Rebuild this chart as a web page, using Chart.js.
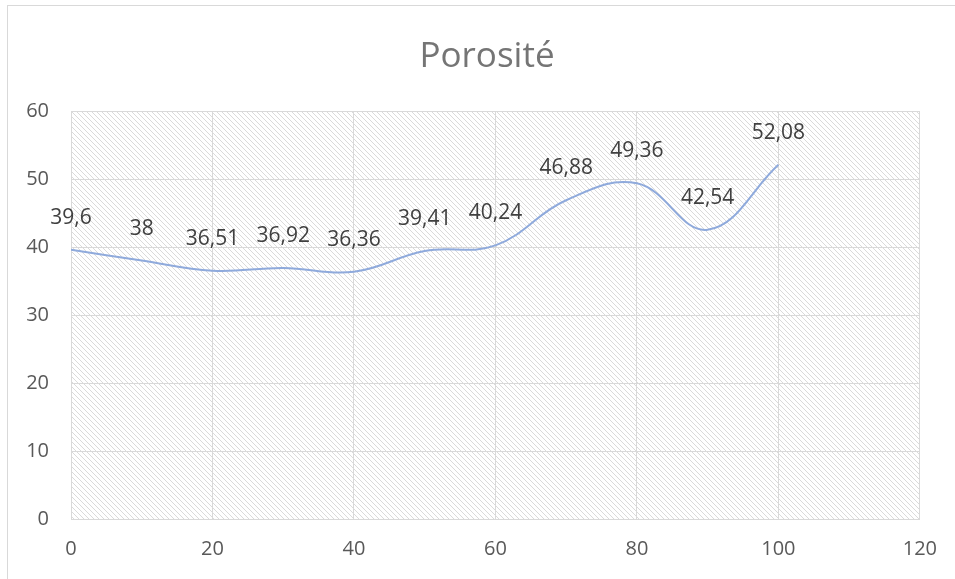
<!DOCTYPE html>
<html>
<head>
<meta charset="utf-8">
<script src="https://cdn.jsdelivr.net/npm/chart.js@4"></script>
<style>
  html, body { margin: 0; padding: 0; background: #fff; }
  #wrap { width: 955px; height: 579px; position: relative; }
  #title {
    position: absolute; left: 387px; width: 200px; top: 30px;
    text-align: center; line-height: 44px;
    font: 35px "Open Sans", "Liberation Sans", sans-serif; color: #757575;
  }
</style>
</head>
<body>
<div id="wrap"><canvas id="chart"></canvas><div id="title">Porosité</div></div>
<script>
const xValues = [0, 10, 20, 30, 40, 50, 60, 70, 80, 90, 100];
const porosite = [39.6, 38, 36.51, 36.92, 36.36, 39.41, 40.24, 46.88, 49.36, 42.54, 52.08];
const pointLabels = ['39,6', '38', '36,51', '36,92', '36,36', '39,41', '40,24', '46,88', '49,36', '42,54', '52,08'];

const gridColor = '#d9d9d9';
const textFont = '"Open Sans", "Liberation Sans", sans-serif';

// hatch pattern for the plot area (downward diagonal)
function makeHatch() {
    const tile = document.createElement('canvas');
    tile.width = 5;
    tile.height = 5;
    const t = tile.getContext('2d');
    t.fillStyle = '#dadada';
    for (let i = 0; i < 5; i++) {
        t.fillRect(i, i, 1, 1);
    }
    return t.createPattern(tile, 'repeat');
}

const backgroundPlugin = {
    id: 'background',
    beforeDraw(chart) {
        const { ctx, chartArea } = chart;
        ctx.save();
        ctx.fillStyle = '#fff';
        ctx.fillRect(0, 0, chart.width, chart.height);
        // outer chart border
        ctx.strokeStyle = gridColor;
        ctx.lineWidth = 1;
        ctx.strokeRect(7.5, 5.5, 2000, 2000);
        ctx.fillStyle = makeHatch();
        ctx.fillRect(chartArea.left, chartArea.top,
            chartArea.right - chartArea.left, chartArea.bottom - chartArea.top);
        ctx.restore();
    }
};

const labelPlugin = {
    id: 'valueLabels',
    afterDatasetsDraw(chart) {
        const { ctx } = chart;
        const meta = chart.getDatasetMeta(0);
        ctx.save();
        ctx.font = '21px ' + textFont;
        ctx.fillStyle = '#404040';
        ctx.textAlign = 'center';
        ctx.textBaseline = 'middle';
        meta.data.forEach((pt, i) => {
            ctx.fillText(pointLabels[i], pt.x, pt.y - 32);
        });
        ctx.restore();
    }
};

new Chart(document.getElementById('chart'), {
    type: 'line',
    data: {
        datasets: [{
            label: 'Porosité',
            data: xValues.map((x, i) => ({ x: x, y: porosite[i] })),
            borderColor: '#8faadc',
            borderWidth: 2,
            pointRadius: 0,
            tension: 0.4,
            fill: false
        }]
    },
    options: {
        responsive: true,
        maintainAspectRatio: false,
        animation: false,
        layout: { padding: { left: 19, right: 35, top: 111, bottom: 0 } },
        plugins: {
            legend: { display: false },
            tooltip: { enabled: false },
            title: { display: false }
        },
        scales: {
            x: {
                type: 'linear',
                min: 0,
                max: 120,
                ticks: {
                    stepSize: 20,
                    color: '#595959',
                    font: { family: textFont, size: 20 },
                    padding: 18
                },
                grid: { color: gridColor, drawTicks: false },
                border: { color: gridColor },
                afterFit(scale) { scale.height = 60; }
            },
            y: {
                min: 0,
                max: 60,
                ticks: {
                    stepSize: 10,
                    color: '#595959',
                    font: { family: textFont, size: 20 },
                    padding: 22
                },
                grid: { color: gridColor, drawTicks: false },
                border: { color: gridColor },
                afterFit(scale) { scale.width = 52; }
            }
        }
    },
    plugins: [backgroundPlugin, labelPlugin]
});
</script>
</body>
</html>
